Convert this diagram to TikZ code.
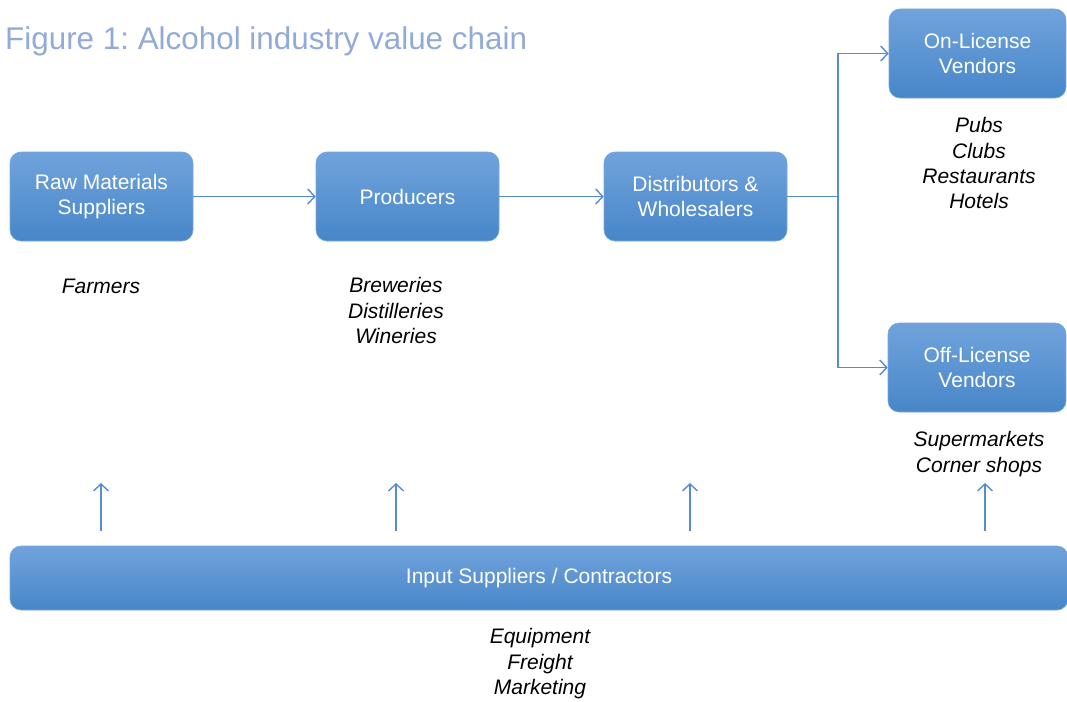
\documentclass[tikz,border=0pt]{standalone}
\usepackage{fontspec}
\setmainfont{Liberation Sans}
\usetikzlibrary{arrows.meta}
\definecolor{boxtop}{RGB}{112,163,220}
\definecolor{boxbot}{RGB}{72,134,200}
\definecolor{boxedge}{RGB}{120,168,222}
\definecolor{arrowc}{RGB}{86,140,208}
\definecolor{titlec}{RGB}{146,170,216}
\frenchspacing
\tikzset{
  stagebox/.style={rounded corners=11pt, top color=boxtop, bottom color=boxbot, draw=boxedge, line width=0.6pt,
    text=white, align=center, font=\fontsize{21}{25.5}\selectfont, inner sep=0pt},
  lab/.style={align=center, font=\fontsize{21}{25.3}\selectfont\itshape, inner sep=0pt},
  flow/.style={draw=arrowc, line width=1.6pt, -{Straight Barb[length=7pt,width=15pt,line width=1.4pt]}},
  flowline/.style={draw=arrowc, line width=1.6pt}
}
\begin{document}
\begin{tikzpicture}[x=1pt,y=-1pt]
\useasboundingbox (0,0) rectangle (1067,701);
\node[anchor=base west, text=titlec, font=\fontsize{31.4}{36}\selectfont, inner sep=0pt] (title) at (5,50) {Figure 1: Alcohol industry value chain};

\node[stagebox, minimum width=183pt, minimum height=89pt] (raw) at (101.5,196.5) {Raw Materials\\Suppliers};
\node[stagebox, minimum width=183pt, minimum height=89pt] (prod) at (407.5,196.5) {Producers};
\node[stagebox, minimum width=183pt, minimum height=89pt] (dist) at (695.5,196.5) {Distributors \&\\Wholesalers};
\node[stagebox, minimum width=177pt, minimum height=89pt] (on) at (977.5,53.5) {On-License\\Vendors};
\node[stagebox, minimum width=178pt, minimum height=89pt] (off) at (977,367.5) {Off-License\\Vendors};
\node[stagebox, minimum width=1058pt, minimum height=64pt] (input) at (539,578) {Input Suppliers / Contractors};

\node[lab] (farm) at (101,286.5) {Farmers};
\node[lab, anchor=north] (brew) at (396,277.5) {Breweries\\Distilleries\\Wineries};
\node[lab, anchor=north] (pubs) at (979,117.5) {Pubs\\Clubs\\Restaurants\\Hotels};
\node[lab, anchor=north] (super) at (979,431.5) {Supermarkets\\Corner shops};
\node[lab, anchor=north] (equip) at (540,628.5) {Equipment\\Freight\\Marketing};

\draw[flow] (raw) -- (prod);
\draw[flow] (prod) -- (dist);
\coordinate (split) at (838,196.5);
\draw[flowline] (dist.east) -- (split);
\draw[flow] (split) |- (on.west);
\draw[flow] (split) |- (off.west);

\coordinate (u1) at (101,531);
\coordinate (u2) at (396,531);
\coordinate (u3) at (690,531);
\coordinate (u4) at (985,531);
\coordinate (v1) at (101,483);
\coordinate (v2) at (396,483);
\coordinate (v3) at (690,483);
\coordinate (v4) at (985,483);
\draw[flow] (u1) -- (v1);
\draw[flow] (u2) -- (v2);
\draw[flow] (u3) -- (v3);
\draw[flow] (u4) -- (v4);
\end{tikzpicture}
\end{document}
